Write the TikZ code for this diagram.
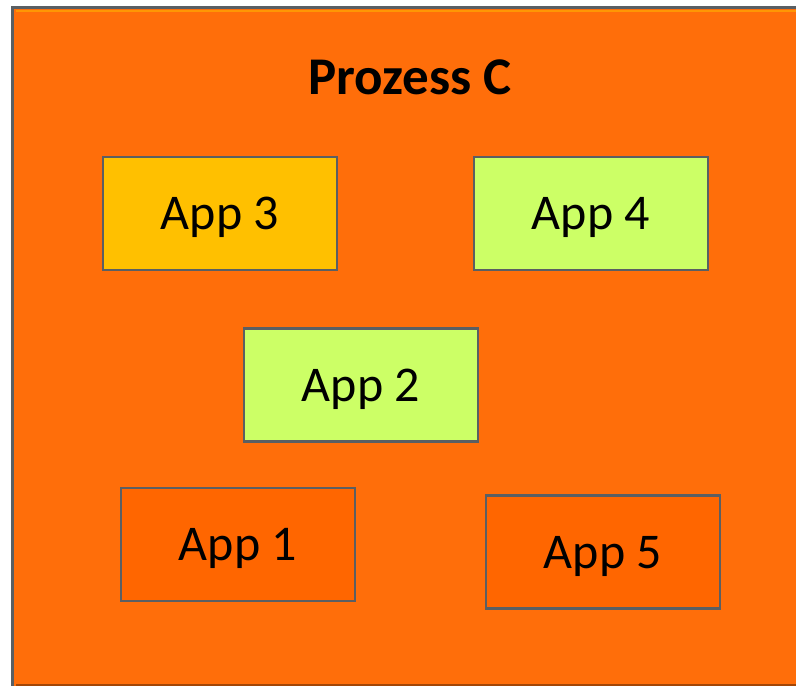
\documentclass[tikz,border=0pt]{standalone}
\usepackage{fontspec}
\setmainfont{Carlito}
\usetikzlibrary{positioning}
\definecolor{procorange}{HTML}{FF6E0A}
\definecolor{appdark}{HTML}{FF6600}
\definecolor{appgold}{HTML}{FFC000}
\definecolor{applime}{HTML}{CCFF66}
\definecolor{edgegray}{HTML}{5A5F63}
\tikzstyle{process}=[rectangle,draw=edgegray,fill=procorange,line width=3.5pt]
\tikzstyle{app}=[rectangle,draw=edgegray,line width=2.8pt,minimum width=234pt,minimum height=113pt,inner sep=0pt,text depth=0pt,font=\fontsize{50}{54}\selectfont]

\begin{document}
\begin{tikzpicture}[x=1pt,y=-1pt]
\def \framew {796};
\def \frameh {686};

\useasboundingbox (0,0) rectangle (\framew,\frameh);
\fill[white] (0,0) rectangle (\framew,\frameh);

% process frame, partly cut at the right and bottom
\draw[process] (12.5,7.5) rectangle (\framew+5,\frameh+5);
\draw[orange!60!yellow,line width=2pt,opacity=0.6] (16,10.5) -- (\framew,10.5);
\draw[black!60!procorange,line width=2.5pt,opacity=0.6] (16,\frameh-1) -- (\framew,\frameh-1);

\node[font=\fontsize{53}{57}\selectfont\bfseries] (title) at (410,77) {Prozess C};

\node[app,fill=appgold] (app3) at (220,213.5) {App 3};
\node[app,fill=applime] (app4) at (591,213.5) {App 4};
\node[app,fill=applime] (app2) at (361,385) {App 2};
\node[app,fill=appdark] (app1) at (238,544.5) {App 1};
\node[app,fill=appdark] (app5) at (603,552) {App 5};

\end{tikzpicture}
\end{document}
